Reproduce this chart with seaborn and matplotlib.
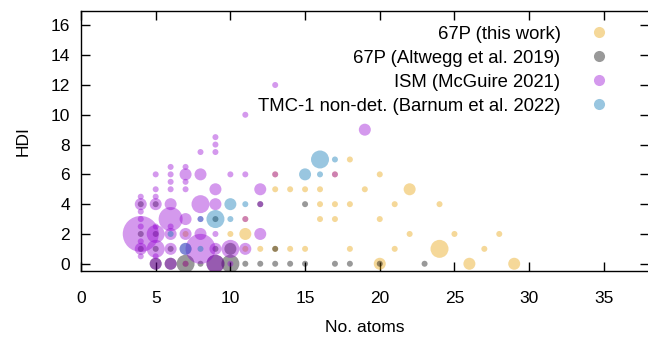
import pandas as pd
import seaborn as sns
import matplotlib
matplotlib.use("Agg")
import matplotlib.pyplot as plt
from matplotlib.lines import Line2D

# 67P (this work)
this_atoms = [20, 26, 29, 11, 12, 13, 14, 15, 18, 21, 24, 27, 7, 10, 11, 22, 25, 28,
              11, 16, 17, 20, 16, 17, 18, 21, 24, 13, 14, 15, 16, 19, 22, 13, 17, 20, 18, 7]
this_hdi = [0, 0, 0, 1, 1, 1, 1, 1, 1, 1, 1, 1, 2, 2, 2, 2, 2, 2,
            3, 3, 3, 3, 4, 4, 4, 4, 4, 5, 5, 5, 5, 5, 5, 6, 6, 6, 7, 0]
this_n = [2, 2, 2, 1, 1, 1, 1, 1, 1, 1, 3, 1, 1, 1, 2, 1, 1, 1,
          1, 1, 1, 1, 1, 1, 1, 1, 1, 1, 1, 1, 1, 1, 2, 1, 1, 1, 1, 1]

# 67P (Altwegg et al. 2019)
alt_atoms = [5, 6, 7, 8, 9, 10, 11, 12, 13, 14, 15, 17, 18, 20, 23,
             4, 5, 6, 9, 10, 13, 4, 5, 9, 4, 5, 12, 15]
alt_hdi = [0, 0, 0, 0, 0, 0, 0, 0, 0, 0, 0, 0, 0, 0, 0,
           1, 1, 1, 1, 1, 1, 2, 2, 3, 4, 4, 4, 4]
alt_n = [2, 2, 3, 1, 3, 3, 1, 1, 1, 1, 1, 1, 1, 1, 1,
         1, 1, 1, 1, 2, 1, 1, 1, 1, 1, 1, 1, 1]

# ISM (McGuire 2021)
ism_atoms = [4, 4, 4, 4, 4, 4, 4, 4, 4,
             5, 5, 5, 5, 5, 5, 5, 5, 5,
             6, 6, 6, 6, 6, 6, 6, 6, 6, 6,
             7, 7, 7, 7, 7, 7, 7, 7,
             8, 8, 8, 8, 8, 8,
             9, 9, 9, 9, 9, 9, 9, 9,
             10, 10, 10, 11, 11, 11, 11, 12, 12, 12, 13, 13, 17, 19]
ism_hdi = [4.5, 4, 3.5, 3, 2.5, 2, 1.5, 1, 0.5,
           6, 5, 4.5, 4, 2.5, 2, 1, 0.5, 0,
           6.5, 6, 5.5, 5, 4, 3, 2.5, 2, 1, 0,
           6.5, 6, 5.5, 5, 3, 2, 1, 0,
           7.5, 6, 4, 3, 2, 1,
           8.5, 8, 7.5, 5, 4, 2, 1, 0,
           6, 1, 0, 10, 6, 3, 1, 5, 4, 2, 12, 6, 6, 9]
ism_n = [1, 2, 1, 1, 1, 6, 1, 2, 1,
         1, 1, 1, 2, 1, 3, 3, 1, 2,
         1, 1, 1, 1, 2, 4, 1, 2, 2, 2,
         1, 2, 1, 1, 2, 2, 2, 1,
         1, 2, 3, 1, 2, 5,
         1, 1, 1, 2, 2, 1, 2, 3,
         1, 3, 1, 1, 1, 1, 2, 2, 1, 2, 1, 1, 1, 2]

# TMC-1 non-det. (Barnum et al. 2022)
tmc_atoms = [16, 17, 15, 16, 10, 11, 10, 8, 9, 6, 7, 8]
tmc_hdi = [7, 7, 6, 6, 4, 4, 3, 3, 3, 2, 1, 1]
tmc_n = [3, 1, 2, 1, 2, 1, 1, 1, 3, 1, 2, 1]

labels = ["67P (this work)", "67P (Altwegg et al. 2019)",
          "ISM (McGuire 2021)", "TMC-1 non-det. (Barnum et al. 2022)"]
colors = ["#E69F00", "#000000", "#9400D3", "#0072B2"]

frames = []
for lab, xs, ys, ns in zip(labels,
                           [this_atoms, alt_atoms, ism_atoms, tmc_atoms],
                           [this_hdi, alt_hdi, ism_hdi, tmc_hdi],
                           [this_n, alt_n, ism_n, tmc_n]):
    frames.append(pd.DataFrame({"atoms": xs, "hdi": ys, "n": ns, "src": lab}))
df = pd.concat(frames, ignore_index=True)

sns.set_style("ticks")
plt.rcParams["font.family"] = ["Liberation Sans", "DejaVu Sans"]
plt.rcParams.update({"font.size": 12.5, "text.color": "black",
                     "axes.labelcolor": "black", "xtick.color": "black",
                     "ytick.color": "black", "axes.edgecolor": "black"})

# circle diameter grows linearly with number of molecules
px = 0.72
sizes = {k: (6.0 * k * px) ** 2 for k in range(1, 7)}

fig = plt.figure(figsize=(6.48, 3.39), dpi=100)
ax = fig.add_axes([0.125, 0.2, 0.876, 0.769])
sns.scatterplot(data=df, x="atoms", y="hdi", hue="src", hue_order=labels,
                palette=dict(zip(labels, colors)), size="n", sizes=sizes,
                alpha=0.4, linewidth=0, legend=False, ax=ax)

ax.set_xlim(0, 38)
ax.set_ylim(-0.5, 17)
ax.set_xticks(range(0, 36, 5))
ax.set_yticks(range(0, 17, 2))
ax.tick_params(direction="in", top=True, right=True, length=6.5, width=1,
               labelsize=12.5, colors="black")
ax.tick_params(axis="x", pad=14)
ax.tick_params(axis="y", pad=8)
for s in ax.spines.values():
    s.set_linewidth(1)
    s.set_color("black")
ax.set_xlabel("No. atoms", labelpad=10)
ax.set_ylabel("HDI", labelpad=14)

handles = [Line2D([], [], marker="o", linestyle="none", markersize=8,
                  markerfacecolor=c, markeredgewidth=0, alpha=0.4) for c in colors]
ax.legend(handles, labels, loc="upper right", bbox_to_anchor=(0.962, 0.968),
          bbox_transform=fig.transFigure, frameon=False, markerfirst=False,
          handlelength=1.0, handletextpad=1.6, labelspacing=0.38,
          fontsize=13.3, borderpad=0.3)

fig.savefig("out.png", dpi=100)
